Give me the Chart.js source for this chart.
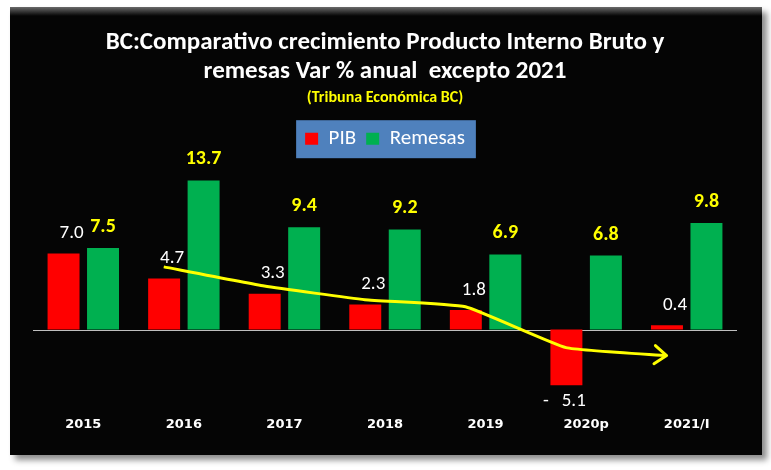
<!DOCTYPE html>
<html>
<head>
<meta charset="utf-8">
<script src="https://cdn.jsdelivr.net/npm/chart.js@4/dist/chart.umd.min.js"></script>
<style>
  html, body { margin: 0; padding: 0; background: #ffffff; }
  #wrap { position: relative; width: 771px; height: 470px; }
  #panel { position: absolute; left: 10px; top: 7px; width: 752px; height: 448px;
           background: linear-gradient(#6a6a6a 0px, #1a1a1a 7px, #050505 9px, #050505 100%);
           box-shadow: 5px 5px 6px rgba(0,0,0,0.45); }
  #c { position: absolute; left: 0; top: 0; }
</style>
</head>
<body>
<div id="wrap">
  <div id="panel"></div>
  <canvas id="c" width="771" height="470"></canvas>
</div>
<script>
// ---- data ----
const categories = ['2015', '2016', '2017', '2018', '2019', '2020p', '2021/I'];
const pib = [7.0, 4.7, 3.3, 2.3, 1.8, -5.1, 0.4];
const remesas = [7.5, 13.7, 9.4, 9.2, 6.9, 6.8, 9.8];
// yellow trend arrow over the PIB bars (x = category position, y = value on the same scale)
const trendX = [0.8, 1.8, 2.8, 3.8, 4.8, 5.8];
const trendY = [5.76, 4.0, 2.75, 2.1, -1.65, -2.38];

const narrow = "Carlito, 'Liberation Sans Narrow', 'DejaVu Sans Condensed', sans-serif";

const barLabels = {
  id: 'barLabels',
  afterDatasetsDraw(chart) {
    const ctx = chart.ctx;
    ctx.save();
    ctx.textAlign = 'center';
    ctx.textBaseline = 'middle';
    chart.getDatasetMeta(0).data.forEach((el, i) => {
      const v = pib[i];
      ctx.font = "19px " + narrow;
      ctx.fillStyle = '#ffffff';
      if (v < 0) {
        ctx.fillText('-   ' + Math.abs(v).toFixed(1), el.x - 2, el.y + 16);
      } else {
        ctx.fillText(v.toFixed(1), el.x + 8, el.y - 20);
      }
    });
    chart.getDatasetMeta(1).data.forEach((el, i) => {
      ctx.font = "bold 20px " + narrow;
      ctx.fillStyle = '#ffff00';
      ctx.fillText(remesas[i].toFixed(1), el.x, el.y - 21);
    });
    ctx.restore();
  }
};

const extras = {
  id: 'extras',
  beforeDraw(chart) {
    const ctx = chart.ctx;
    const hb = chart.legend && chart.legend.legendHitBoxes;
    if (hb && hb.length) {
      let l = Infinity, r = -Infinity, t = Infinity, b = -Infinity;
      hb.forEach(h => { l = Math.min(l, h.left); r = Math.max(r, h.left + h.width);
                        t = Math.min(t, h.top); b = Math.max(b, h.top + h.height); });
      ctx.save();
      ctx.fillStyle = '#4f81bd';
      ctx.fillRect(l - 9, t - 8, (r - l) + 20, (b - t) + 17);
      ctx.restore();
    }
  },
  beforeDatasetsDraw(chart) {
    const ctx = chart.ctx;
    const y0 = chart.scales.y.getPixelForValue(0);
    ctx.save();
    ctx.strokeStyle = '#bfbfbf';
    ctx.lineWidth = 1;
    ctx.beginPath();
    ctx.moveTo(chart.chartArea.left, Math.round(y0) + 0.5);
    ctx.lineTo(chart.chartArea.right, Math.round(y0) + 0.5);
    ctx.stroke();
    ctx.restore();
  },
  afterDatasetsDraw(chart) {
    const pts = chart.getDatasetMeta(2).data;
    if (pts.length < 2) return;
    const a = pts[pts.length - 1], p = pts[pts.length - 2];
    const ang = Math.atan2(a.y - p.y, a.x - p.x);
    const ctx = chart.ctx;
    const L = 15, w = 0.65;
    ctx.save();
    ctx.strokeStyle = '#ffff00';
    ctx.lineWidth = 3;
    ctx.lineCap = 'round';
    ctx.lineJoin = 'round';
    ctx.beginPath();
    ctx.moveTo(a.x - L * Math.cos(ang - w), a.y - L * Math.sin(ang - w));
    ctx.lineTo(a.x, a.y);
    ctx.lineTo(a.x - L * Math.cos(ang + w), a.y - L * Math.sin(ang + w));
    ctx.stroke();
    ctx.restore();
  }
};

new Chart(document.getElementById('c'), {
  type: 'bar',
  data: {
    datasets: [
      { type: 'bar', label: 'PIB', data: pib.map((v, i) => ({ x: i, y: v })), backgroundColor: '#ff0000',
        categoryPercentage: 0.785, barPercentage: 0.81, order: 2 },
      { type: 'bar', label: 'Remesas', data: remesas.map((v, i) => ({ x: i, y: v })), backgroundColor: '#00b050',
        categoryPercentage: 0.785, barPercentage: 0.81, order: 2 },
      { type: 'line', label: 'trend',
        data: trendX.map((x, i) => ({ x: x, y: trendY[i] })),
        borderColor: '#ffff00', borderWidth: 3, pointRadius: 0, tension: 0.12,
        fill: false, order: 1 }
    ]
  },
  options: {
    responsive: false,
    animation: false,
    layout: { padding: { left: 33, right: 34, top: 0, bottom: 30 } },
    plugins: {
      title: { display: true, text: ['BC:Comparativo crecimiento Producto Interno Bruto y', 'remesas Var % anual  excepto 2021'],
               color: '#ffffff', font: { family: narrow, size: 25, weight: 'bold', lineHeight: 1.16 },
               padding: { top: 28, bottom: 2 } },
      subtitle: { display: true, text: '(Tribuna Económica BC)', color: '#ffff00',
                  font: { family: narrow, size: 16, weight: 'bold' }, padding: { top: 0, bottom: 11 } },
      legend: { display: true, position: 'top',
                labels: { color: '#ffffff', font: { family: narrow, size: 21 }, boxWidth: 13, boxHeight: 12,
                          padding: 10, filter: item => item.text !== 'trend' } },
      tooltip: { enabled: false }
    },
    scales: {
      x: { type: 'linear', min: -0.5, max: 6.5, offset: false,
           grid: { display: false }, border: { display: false },
           afterBuildTicks: s => { s.ticks = categories.map((c, i) => ({ value: i })); },
           ticks: { color: '#ffffff', font: { family: "'DejaVu Sans', sans-serif", size: 13, weight: 'bold' },
                    padding: 8, autoSkip: false, maxRotation: 0,
                    callback: v => categories[v] } },
      y: { display: false, min: -6.5, max: 15.65 }
    }
  },
  plugins: [extras, barLabels]
});
</script>
</body>
</html>
